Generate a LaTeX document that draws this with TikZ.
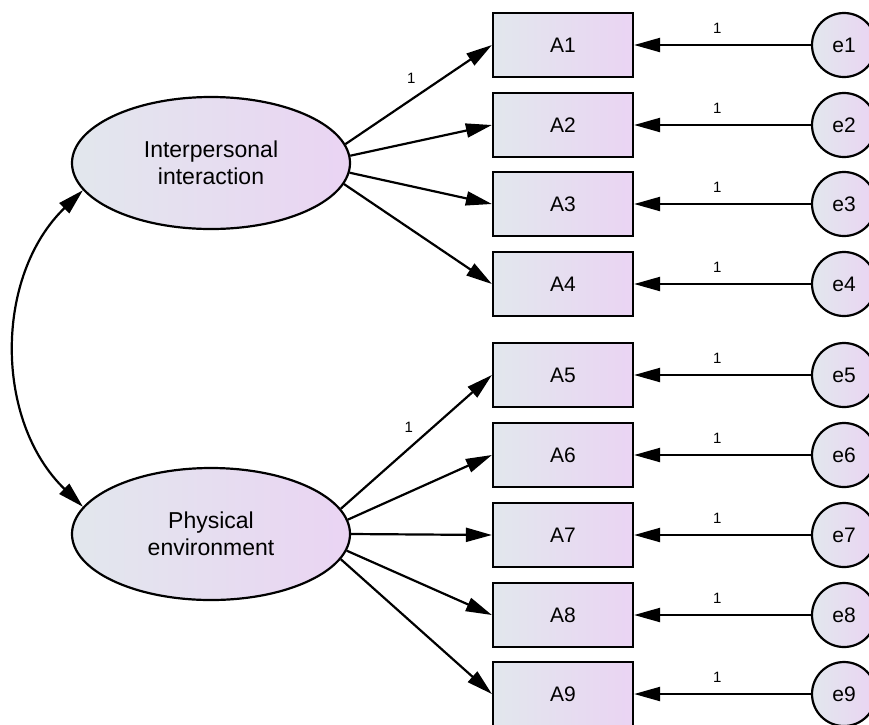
\documentclass[tikz,border=0pt]{standalone}
\usepackage{fontspec}
\setmainfont{Liberation Sans}
\usetikzlibrary{arrows.meta, shapes.geometric}
\definecolor{amosgray}{RGB}{226, 231, 237}
\definecolor{amoslilac}{RGB}{234, 212, 243}

\begin{document}
\begin{tikzpicture}[x=1pt, y=1pt,
    latent/.style={ellipse, draw, line width=2.2pt, minimum width=278pt, minimum height=132pt,
        left color=amosgray, right color=amoslilac, align=center,
        font=\fontsize{23}{27}\selectfont},
    indicator/.style={rectangle, draw, line width=2.2pt, minimum width=140pt, minimum height=64pt,
        left color=amosgray, right color=amoslilac, font=\fontsize{21}{25}\selectfont},
    errterm/.style={circle, draw, line width=2.2pt, minimum size=64pt, inner sep=0pt,
        left color=amosgray, right color=amoslilac, font=\fontsize{21}{25}\selectfont},
    regpath/.style={line width=2.2pt, -{Triangle[length=26pt, width=14pt]}},
    weight/.style={font=\fontsize{15}{17}\selectfont, inner sep=0pt}]

    \useasboundingbox (0,0) rectangle (869,-724);

    % Latent factors
    \node[latent] (inter) at (211,-163) {Interpersonal\\interaction};
    \node[latent] (phys) at (211,-534) {Physical\\environment};

    % Indicators with their error terms
    \foreach \n/\y in {1/45, 2/125, 3/204, 4/284, 5/375, 6/455, 7/535, 8/615, 9/694} {
        \node[indicator] (A\n) at (563,-\y) {A\n};
        \node[errterm] (e\n) at (844,-\y) {e\n};
        \draw[regpath] (e\n) -- (A\n) node[weight, pos=0.53, above=10pt] {1};
    }

    % Loadings
    \draw[regpath] (inter.8) -- (A1.west) node[weight, pos=0.45, above=15pt] {1};
    \foreach \n/\a in {2/3, 3/-4, 4/-9} {
        \draw[regpath] (inter.\a) -- (A\n.west);
    }
    \draw[regpath] (phys.11) -- (A5.west) node[weight, pos=0.45, above=15pt] {1};
    \foreach \n/\a in {6/6, 7/0, 8/-7, 9/-11} {
        \draw[regpath] (phys.\a) -- (A\n.west);
    }

    % Covariance
    \draw[line width=2.2pt, {Triangle[length=26pt, width=14pt]}-{Triangle[length=26pt, width=14pt]}]
        (inter.192) to[bend right=46] (phys.168);
\end{tikzpicture}
\end{document}
